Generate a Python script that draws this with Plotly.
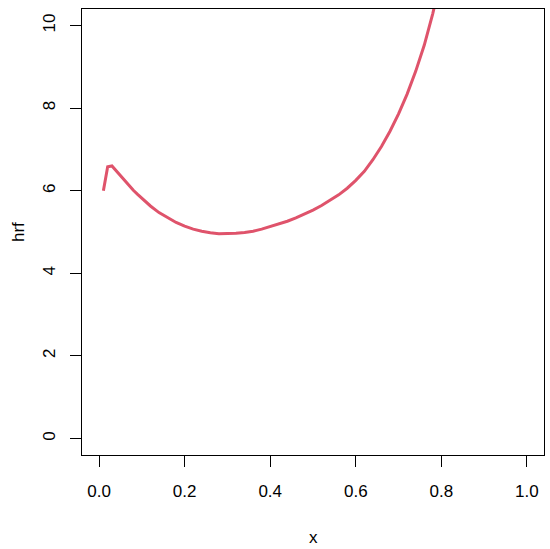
"""Hazard rate function curve, R base-graphics look."""

import plotly.graph_objects as go

# Data
x_vals = [0.01, 0.02, 0.03, 0.04, 0.05, 0.06, 0.07, 0.08, 0.09, 0.10,
          0.12, 0.14, 0.16, 0.18, 0.20, 0.22, 0.24, 0.26, 0.28, 0.30,
          0.32, 0.34, 0.36, 0.38, 0.40, 0.42, 0.44, 0.46, 0.48, 0.50,
          0.52, 0.54, 0.56, 0.58, 0.60, 0.62, 0.64, 0.66, 0.68, 0.70,
          0.72, 0.74, 0.76, 0.78, 0.80]
hrf_vals = [6.00, 6.58, 6.60, 6.48, 6.36, 6.24, 6.12, 6.01, 5.91, 5.81,
            5.63, 5.47, 5.34, 5.23, 5.14, 5.07, 5.02, 4.98, 4.96, 4.96,
            4.97, 4.99, 5.02, 5.07, 5.13, 5.19, 5.26, 5.34, 5.43, 5.53,
            5.64, 5.76, 5.90, 6.06, 6.25, 6.47, 6.75, 7.07, 7.44, 7.86,
            8.34, 8.89, 9.52, 10.29, 11.19]

x_ticks = [0.0, 0.2, 0.4, 0.6, 0.8, 1.0]
x_tick_labels = ["0.0", "0.2", "0.4", "0.6", "0.8", "1.0"]
y_ticks = [0, 2, 4, 6, 8, 10]
y_tick_labels = ["0", "2", "4", "6", "8", "10"]

font_family = "Liberation Sans, Arial, Helvetica, sans-serif"
line_color = "#DF536B"

fig = go.Figure()

fig.add_trace(go.Scatter(
    x=x_vals,
    y=hrf_vals,
    mode="lines",
    line=dict(color=line_color, width=3),
    showlegend=False,
    hoverinfo="skip",
))

axis_common = dict(
    showgrid=False,
    zeroline=False,
    showline=True,
    linecolor="black",
    linewidth=1,
    mirror=True,
    ticks="outside",
    ticklen=11,
    tickwidth=1,
    tickcolor="black",
    tickfont=dict(size=17, color="black", family=font_family),
)

fig.update_layout(
    width=550,
    height=549,
    margin=dict(l=82, r=6, t=9, b=94),
    paper_bgcolor="white",
    plot_bgcolor="white",
    font=dict(family=font_family, color="black"),
    xaxis=dict(
        range=[-0.04, 1.04],
        tickvals=x_ticks,
        ticktext=x_tick_labels,
        ticklabelstandoff=10,
        **axis_common,
    ),
    yaxis=dict(
        range=[-0.4, 10.4],
        tickvals=y_ticks,
        ticktext=y_tick_labels,
        tickangle=-90,
        ticklabelstandoff=8,
        **axis_common,
    ),
)

# Axis titles placed like R's mtext
fig.add_annotation(
    x=0.5, y=0, xref="paper", yref="paper",
    text="x", showarrow=False,
    font=dict(size=17, color="black", family=font_family),
    xanchor="center", yanchor="middle", yshift=-82,
)
fig.add_annotation(
    x=0, y=0.5, xref="paper", yref="paper",
    text="hrf", showarrow=False, textangle=-90,
    font=dict(size=17, color="black", family=font_family),
    xanchor="center", yanchor="middle", xshift=-64,
)

# drop the page's default body margin so the figure sits at the top-left
fig.write_html(
    "out.html",
    config={"displayModeBar": False},
    post_script="document.body.style.margin = '0';",
)
